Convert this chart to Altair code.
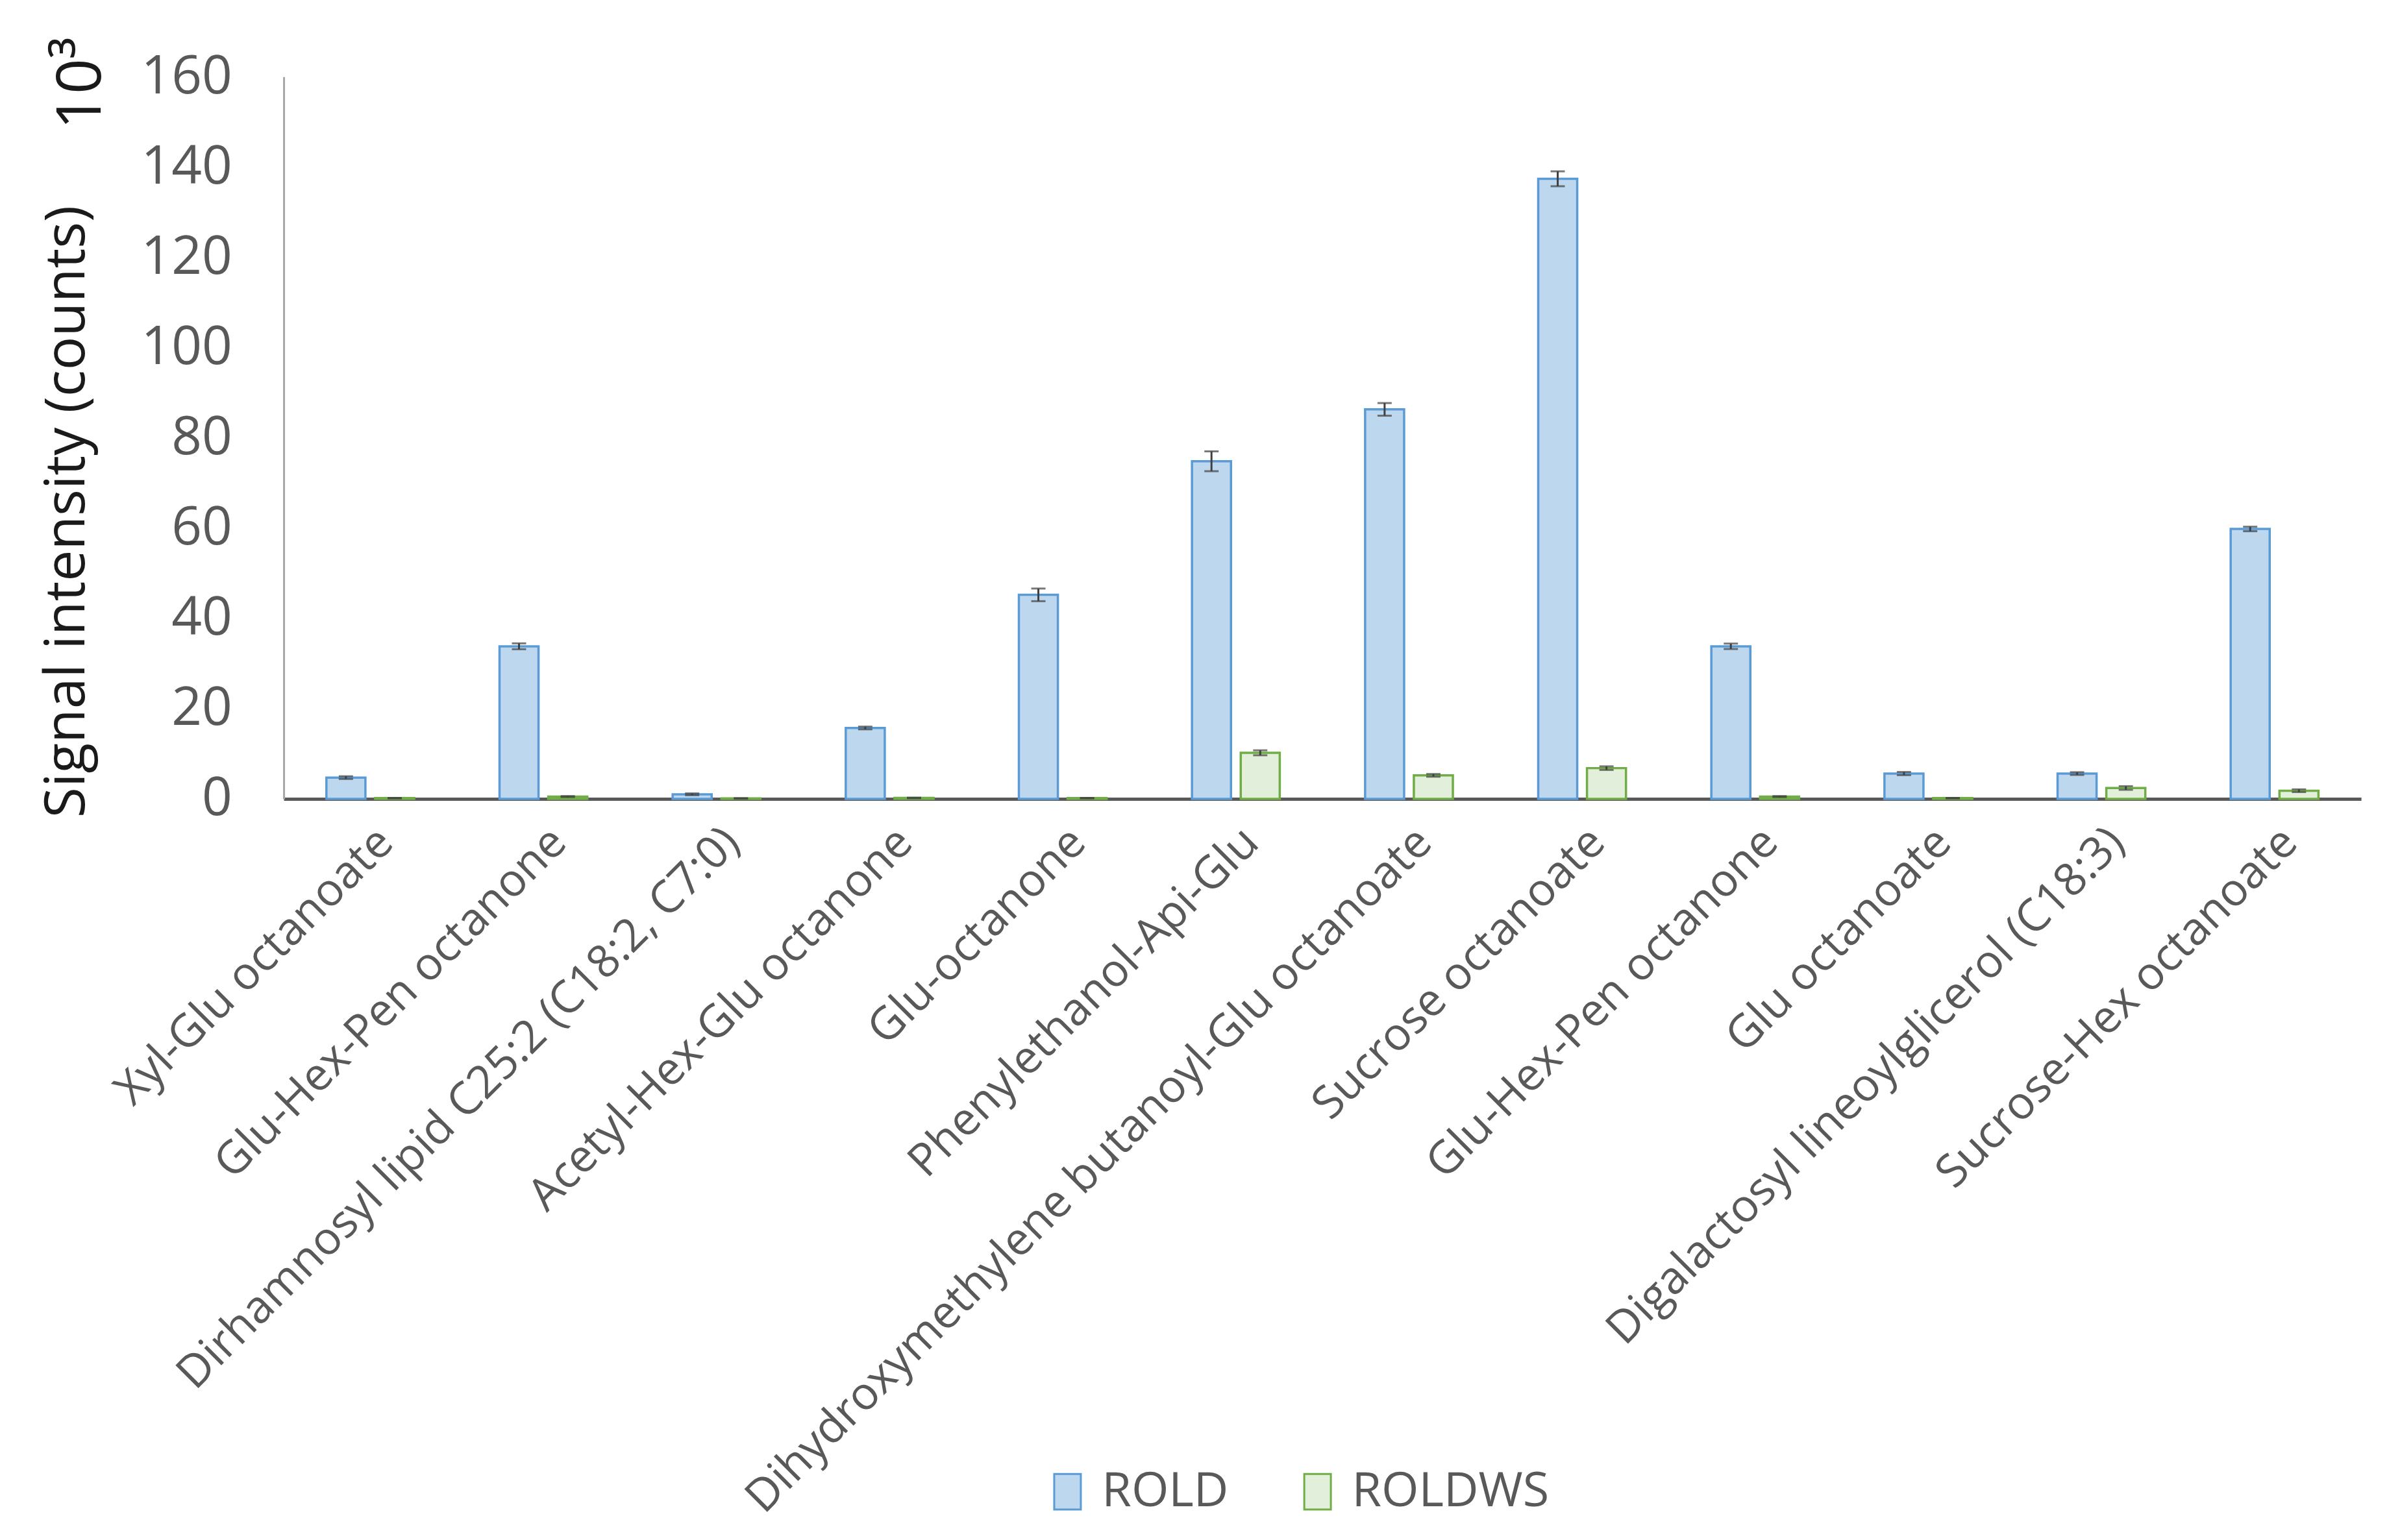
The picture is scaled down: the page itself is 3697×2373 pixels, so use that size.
import json
import altair as alt
import pandas as pd

categories = [
    "Xyl-Glu octanoate",
    "Glu-Hex-Pen octanone",
    "Dirhamnosyl lipid C25:2 (C18:2, C7:0)",
    "Acetyl-Hex-Glu octanone",
    "Glu-octanone",
    "Phenylethanol-Api-Glu",
    "Dihydroxymethylene butanoyl-Glu octanoate",
    "Sucrose octanoate",
    "Glu-Hex-Pen octanone",
    "Glu octanoate",
    "Digalactosyl lineoylglicerol (C18:3)",
    "Sucrose-Hex octanoate",
]
rold = [4.7, 33.8, 1.0, 15.7, 45.2, 74.8, 86.3, 137.4, 33.8, 5.6, 5.6, 59.8]
rold_err = [0.3, 0.65, 0.2, 0.3, 1.4, 2.2, 1.4, 1.65, 0.6, 0.35, 0.3, 0.5]
roldws = [0.15, 0.5, 0.1, 0.2, 0.15, 10.2, 5.2, 6.8, 0.5, 0.15, 2.4, 1.8]
roldws_err = [0.05, 0.1, 0.05, 0.05, 0.05, 0.55, 0.3, 0.4, 0.1, 0.05, 0.4, 0.3]
series = ["ROLD", "ROLDWS"]
fills = ["#BDD7EE", "#E2EFDA"]
strokes = ["#5B9BD5", "#70AD47"]

rows = []
for i, c in enumerate(categories):
    for s, v, e in ((series[0], rold[i], rold_err[i]), (series[1], roldws[i], roldws_err[i])):
        rows.append({"idx": i, "series": s, "value": v, "lo": v - e, "hi": v + e})
df = pd.DataFrame(rows)

label_expr = json.dumps(categories) + "[datum.value]"

x_enc = alt.X(
    "idx:O",
    scale=alt.Scale(paddingInner=0.493, paddingOuter=0.2465),
    axis=alt.Axis(
        title=None,
        labelExpr=label_expr,
        labelAngle=-45,
        labelFont="Open Sans",
        labelFontSize=70,
        labelColor="#595959",
        labelPadding=32,
        ticks=False,
        domainColor="#595959",
        domainWidth=5,
        labelLimit=3000,
    ),
)
xoff_enc = alt.XOffset("series:N", scale=alt.Scale(domain=series, paddingInner=0.2))
y_scale = alt.Scale(domain=[0, 160], nice=False)

base = alt.Chart(df).encode(x=x_enc, xOffset=xoff_enc)

legend = alt.Legend(
    title=None,
    orient="none",
    direction="horizontal",
    legendX=1173,
    legendY=2148,
    labelFont="Open Sans",
    labelFontSize=74,
    labelColor="#595959",
    labelLimit=2000,
    symbolType="M-0.75,-1H0.75V1H-0.75Z",
    symbolSize=3000,
    symbolStrokeWidth=3,
    columnPadding=100,
    labelOffset=16,
)

bars = base.mark_bar(strokeWidth=3.5).encode(
    y=alt.Y(
        "value:Q",
        scale=y_scale,
        axis=alt.Axis(
            values=[0, 20, 40, 60, 80, 100, 120, 140, 160],
            grid=False,
            ticks=False,
            domainColor="#A6A6A6",
            domainWidth=3,
            labelFont="Open Sans",
            labelFontSize=82,
            labelColor="#595959",
            labelPadding=80,
            title="Signal intensity (counts)",
            titleFont="Liberation Sans Narrow, Open Sans",
            titleFontSize=86,
            titleFontWeight="normal",
            titleColor="#1a1a1a",
            titleAngle=270,
            titleBaseline="bottom",
            titleX=-290,
            titleY=671,
        ),
    ),
    color=alt.Color("series:N", scale=alt.Scale(domain=series, range=fills), legend=legend),
    stroke=alt.Stroke("series:N", scale=alt.Scale(domain=series, range=strokes), legend=legend),
)

rule = base.mark_rule(color="#404040", strokeWidth=3).encode(
    y=alt.Y("lo:Q", scale=y_scale), y2="hi:Q"
)
cap_lo = base.mark_tick(color="#404040", thickness=3, size=22).encode(y=alt.Y("lo:Q", scale=y_scale))
cap_hi = base.mark_tick(color="#404040", thickness=3, size=22).encode(y=alt.Y("hi:Q", scale=y_scale))

exp_df = pd.DataFrame({"t": ["10³"]})
exp_text = alt.Chart(exp_df).mark_text(
    angle=270,
    font="Open Sans",
    fontSize=96,
    color="#1a1a1a",
    align="center",
    baseline="middle",
).encode(text="t:N", x=alt.value(-312), y=alt.value(10))

chart = alt.layer(bars, rule, cap_lo, cap_hi, exp_text).properties(
    width=3207,
    height=1115,
    autosize=alt.AutoSizeParams(type="none"),
    padding={"left": 430, "top": 108, "right": 52, "bottom": 1142},
).configure(background="white", view=alt.ViewConfig(stroke=None, strokeWidth=0))

chart.save("out.html", embed_options={"renderer": "svg", "actions": False})
